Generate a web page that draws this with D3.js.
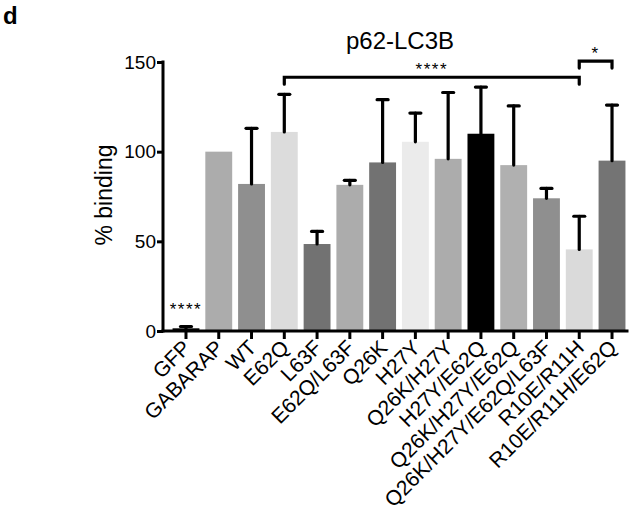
<!DOCTYPE html>
<html>
<head>
<meta charset="utf-8">
<script src="https://cdn.jsdelivr.net/npm/d3@7"></script>
<style>
  body { margin: 0; background: #fff; }
  text { font-family: "Liberation Sans", Arial, sans-serif; fill: #000; }
</style>
</head>
<body>
<svg id="chart" width="635" height="518"></svg>
<script>
// data
const categories = ["GFP", "GABARAP", "WT", "E62Q", "L63F", "E62Q/L63F", "Q26K", "H27Y",
  "Q26K/H27Y", "H27Y/E62Q", "Q26K/H27Y/E62Q", "Q26K/H27Y/E62Q/L63F", "R10E/R11H", "R10E/R11H/E62Q"];
const binding = [1.5, 100, 82, 111, 48.5, 81.5, 94, 105.5, 96, 110, 92.5, 74, 45.5, 95];
const errUp = [1, 0, 31, 21, 7, 2.5, 35, 16, 37, 26, 33, 5.5, 18.5, 31];
const barFills = ["#000", "#acacac", "#8f8f8f", "#dcdcdc", "#727272", "#acacac", "#727272",
  "#ebebeb", "#acacac", "#000", "#b0b0b0", "#8f8f8f", "#dadada", "#747474"];
const yTicks = [0, 50, 100, 150];
const brackets = [
  { from: "E62Q", to: "R10E/R11H", level: 141.5, label: "****" },
  { from: "R10E/R11H", to: "R10E/R11H/E62Q", level: 150.5, label: "*" }
];

const svg = d3.select("#chart");

const x = d3.scaleBand()
    .domain(categories)
    .range([169.6, 628.4])
    .paddingInner(0.18)
    .paddingOuter(0.09);

const y = d3.scaleLinear()
    .domain([0, 150])
    .range([331, 62]);

const rows = categories.map((c, i) => ({ name: c, value: binding[i], err: errUp[i], fill: barFills[i] }));

// bars
svg.append("g")
  .selectAll("rect")
  .data(rows)
  .join("rect")
    .attr("x", d => x(d.name))
    .attr("width", x.bandwidth())
    .attr("y", d => y(d.value))
    .attr("height", d => y(0) - y(d.value))
    .attr("fill", d => d.fill);

// upper error bars
const errG = svg.append("g")
    .attr("stroke", "#000")
    .attr("stroke-width", 3.2)
    .attr("stroke-linecap", "round");

errG.selectAll("line.stem")
  .data(rows.filter(d => d.err > 0))
  .join("line")
    .attr("class", "stem")
    .attr("x1", d => x(d.name) + x.bandwidth() / 2)
    .attr("x2", d => x(d.name) + x.bandwidth() / 2)
    .attr("y1", d => y(d.value))
    .attr("y2", d => y(d.value + d.err));

errG.selectAll("line.cap")
  .data(rows.filter(d => d.err > 0))
  .join("line")
    .attr("class", "cap")
    .attr("x1", d => x(d.name) + x.bandwidth() / 2 - 5.5)
    .attr("x2", d => x(d.name) + x.bandwidth() / 2 + 5.5)
    .attr("y1", d => y(d.value + d.err))
    .attr("y2", d => y(d.value + d.err));

// y axis
const yAxis = d3.axisLeft(y)
    .tickValues(yTicks)
    .tickSize(6)
    .tickPadding(1)
    .tickSizeOuter(0);

svg.append("g")
    .attr("transform", "translate(163,0)")
    .call(yAxis)
    .call(g => g.select(".domain").attr("stroke-width", 3).attr("d", `M0,${y(150) - 1.5}V${y(0) + 1.5}`))
    .call(g => g.selectAll(".tick line").attr("stroke-width", 3))
    .call(g => g.selectAll(".tick text").attr("font-size", 19).attr("font-family", "Liberation Sans, Arial, sans-serif"));

// x axis
const xAxis = d3.axisBottom(x)
    .tickSize(8)
    .tickSizeOuter(0)
    .tickFormat("");

svg.append("g")
    .attr("transform", `translate(0,${y(0)})`)
    .call(xAxis)
    .call(g => g.select(".domain").attr("stroke-width", 3).attr("d", "M161.5,0H628.5"))
    .call(g => g.selectAll(".tick line").attr("stroke-width", 3));

// rotated category labels
svg.append("g")
  .selectAll("text")
  .data(categories)
  .join("text")
    .attr("transform", d => `translate(${x(d) + x.bandwidth() / 2 + 6},${y(0) + 18}) rotate(-45)`)
    .attr("text-anchor", "end")
    .attr("font-size", 21)
    .text(d => d);

// y label
svg.append("text")
    .attr("transform", "translate(112,195) rotate(-90)")
    .attr("text-anchor", "middle")
    .attr("font-size", 23)
    .text("% binding");

// title
svg.append("text")
    .attr("x", 400)
    .attr("y", 49)
    .attr("text-anchor", "middle")
    .attr("font-size", 24)
    .text("p62-LC3B");

// panel letter
svg.append("text")
    .attr("x", 3)
    .attr("y", 24)
    .attr("font-size", 24)
    .attr("font-weight", "bold")
    .text("d");

// significance brackets
const brG = svg.append("g");
brackets.forEach(b => {
  const x1 = x(b.from) + x.bandwidth() / 2;
  const x2 = x(b.to) + x.bandwidth() / 2;
  const yy = y(b.level);
  brG.append("path")
      .attr("d", `M${x1},${yy + 7}V${yy}H${x2}V${yy + 7}`)
      .attr("fill", "none")
      .attr("stroke", "#000")
      .attr("stroke-width", 3.2)
      .attr("stroke-linecap", "round");
  brG.append("text")
      .attr("x", (x1 + x2) / 2)
      .attr("y", yy - 2)
      .attr("text-anchor", "middle")
      .attr("font-size", 17)
      .attr("letter-spacing", 1.5)
      .text(b.label);
});

// GFP marker
svg.append("text")
    .attr("x", x("GFP") + x.bandwidth() / 2)
    .attr("y", y(binding[0] + errUp[0]) - 12)
    .attr("text-anchor", "middle")
    .attr("font-size", 17)
    .attr("letter-spacing", 1.5)
    .text("****");
</script>
</body>
</html>
